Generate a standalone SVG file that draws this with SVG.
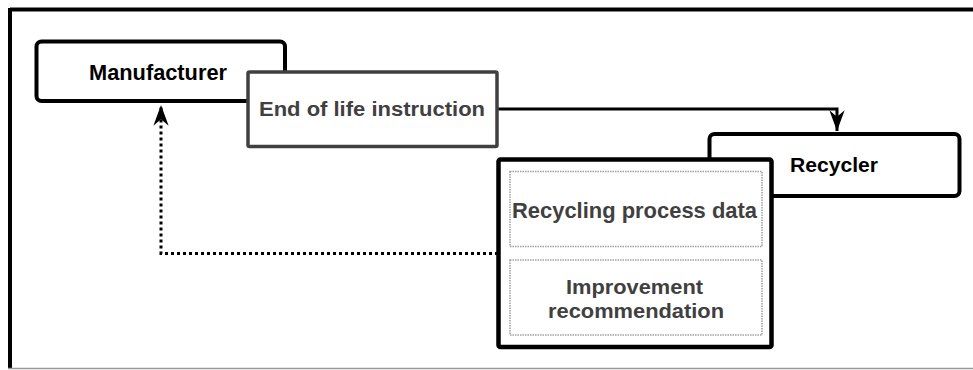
<svg xmlns="http://www.w3.org/2000/svg" width="973" height="370" viewBox="0 0 973 370">
<style>
.lbl{font-family:"Liberation Sans",Arial,sans-serif;font-weight:bold;font-size:22px;text-anchor:middle}
.blk{fill:#000}
.gry{fill:#404040}
.sub{fill:#fff;stroke:#a0a0a0;stroke-width:1.5;stroke-dasharray:1.5 1}
</style>
<defs>
<marker id="arr" markerUnits="userSpaceOnUse" markerWidth="24" markerHeight="20" viewBox="-20 -8 22 16" refX="0" refY="0" orient="auto">
<path d="M0,0 L-19,-7 L-13,0 L-19,7 Z" fill="#000"/>
</marker>
</defs>
<rect x="0" y="0" width="973" height="370" fill="#fff"/>
<g id="frame">
<line x1="10" y1="9.5" x2="973" y2="9.5" stroke="#000" stroke-width="4"/>
<line x1="10" y1="8" x2="10" y2="369" stroke="#000" stroke-width="4"/>
<line x1="8" y1="368.5" x2="973" y2="368.5" stroke="#999" stroke-width="1.5"/>
</g>
<g id="manufacturer">
<rect x="36.5" y="41.5" width="248.5" height="59.5" rx="5" fill="#fff" stroke="#000" stroke-width="4"/>
<text class="lbl blk" x="158" y="79.5" textLength="138" lengthAdjust="spacingAndGlyphs">Manufacturer</text>
</g>
<g id="recycler">
<rect x="709.5" y="134" width="250" height="62" rx="5" fill="#fff" stroke="#000" stroke-width="4"/>
<text class="lbl blk" x="834" y="172" style="font-size:20.5px" textLength="88" lengthAdjust="spacingAndGlyphs">Recycler</text>
</g>
<g id="connectors">
<polyline points="497,109 837,109 837,131" fill="none" stroke="#000" stroke-width="3" marker-end="url(#arr)"/>
<polyline points="498,253.5 161,253.5 161,105" fill="none" stroke="#000" stroke-width="3" stroke-dasharray="3 3" marker-end="url(#arr)"/>
</g>
<g id="end-of-life">
<rect x="248" y="72" width="249" height="74.5" rx="1.5" fill="#fff" stroke="#404040" stroke-width="3.5"/>
<text class="lbl gry" x="372" y="116" style="font-size:20px" textLength="226" lengthAdjust="spacingAndGlyphs">End of life instruction</text>
</g>
<g id="recycler-data">
<rect x="498.5" y="159.5" width="273" height="187.5" rx="2" fill="#fff" stroke="#000" stroke-width="4.5"/>
<g id="recycling-process-data">
<rect class="sub" x="510" y="171.5" width="252" height="75"/>
<text class="lbl gry" x="634.5" y="217.5" textLength="245" lengthAdjust="spacingAndGlyphs">Recycling process data</text>
</g>
<g id="improvement-recommendation">
<rect class="sub" x="510" y="260" width="252" height="75"/>
<text class="lbl gry" x="634.5" y="294" style="font-size:20px" textLength="137" lengthAdjust="spacingAndGlyphs">Improvement</text>
<text class="lbl gry" x="636" y="318" style="font-size:20px" textLength="176" lengthAdjust="spacingAndGlyphs">recommendation</text>
</g>
</g>
</svg>
